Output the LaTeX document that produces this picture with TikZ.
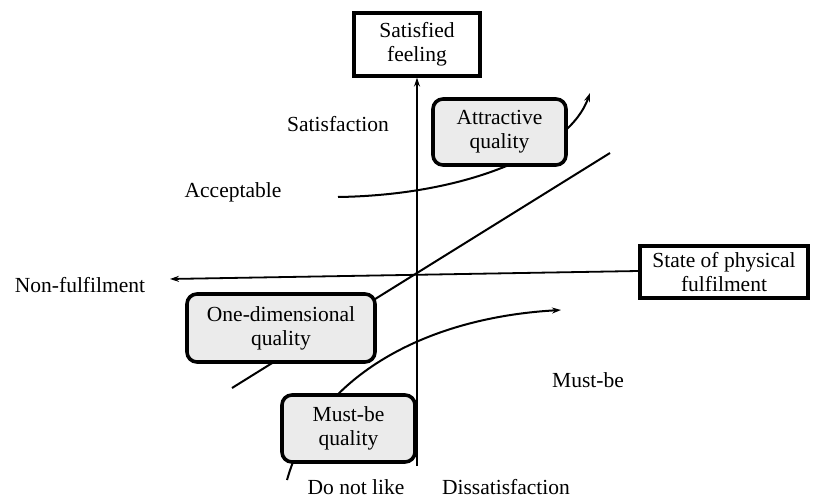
\documentclass[tikz,border=0pt]{standalone}
\usepackage{fontspec}
\setmainfont{Liberation Serif}
\usetikzlibrary{arrows.meta}
\begin{document}
\begin{tikzpicture}[x=1pt,y=-1pt,
  every node/.style={font=\fontsize{21.5}{24}\selectfont, inner sep=0pt},
  plainbox/.style={draw, line width=3.2pt, fill=white, align=center},
  qualbox/.style={draw, line width=3.6pt, rounded corners=10pt, fill=gray!16, align=center},
  axis/.style={line width=1.8pt, -{Stealth[length=9pt,width=6pt]}},
  trend/.style={line width=2pt},
  label/.style={anchor=center}]
  \useasboundingbox (0,0) rectangle (820,498);

  % curve end points
  \coordinate (a1) at (338,197);
  \coordinate (a2) at (590,93);
  \coordinate (d1) at (232,388);
  \coordinate (d2) at (610,153);
  \coordinate (m1) at (287,480);
  \coordinate (m2) at (561,310);
  \coordinate (vbot) at (417,466);
  \coordinate (hleft) at (170,279);

  % attractive quality curve
  \draw[trend, -{Stealth[length=9pt,width=6pt]}] (a1) .. controls (470,195) and (570,150) .. (a2);
  % one-dimensional quality line
  \draw[trend] (d1) -- (d2);
  % must-be quality curve
  \draw[trend, -{Stealth[length=9pt,width=6pt]}] (m1) .. controls (315,380) and (420,318) .. (m2);

  % boxes
  \node[plainbox, minimum width=126pt, minimum height=63pt] (sat) at (417,44.5) {Satisfied\\feeling};
  \node[plainbox, minimum width=168pt, minimum height=52pt] (state) at (724,272) {State of physical\\fulfilment};
  \node[qualbox, minimum width=133pt, minimum height=66pt] (attr) at (499.5,132) {Attractive\\quality};
  \node[qualbox, minimum width=188pt, minimum height=68pt] (oned) at (281,328) {One-dimensional\\quality};
  \node[qualbox, minimum width=133pt, minimum height=67pt] (mustq) at (348.5,428.5) {Must-be\\quality};

  % axes
  \draw[axis] (vbot) -- (sat.south);
  \draw[axis] ([yshift=1pt]state.west) -- (hleft);

  % region labels
  \node[label] (lsat) at (338,124) {Satisfaction};
  \node[label] (lacc) at (233,192) {Acceptable};
  \node[label] (lnon) at (80,285) {Non-fulfilment};
  \node[label] (lmust) at (588,380) {Must-be};
  \node[label] (ldnl) at (356,487) {Do not like};
  \node[label] (ldis) at (506,487) {Dissatisfaction};
\end{tikzpicture}
\end{document}
